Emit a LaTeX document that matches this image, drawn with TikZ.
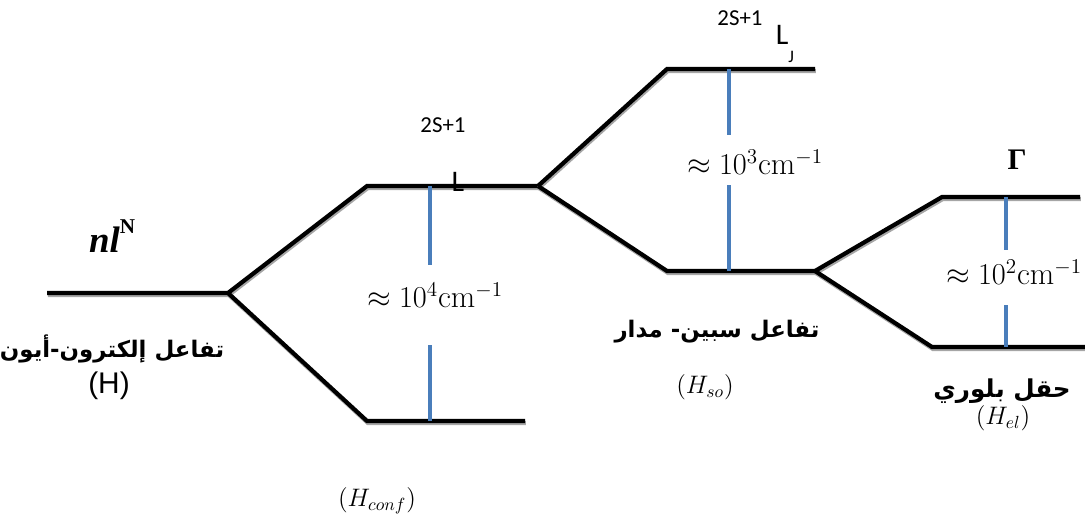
\documentclass[tikz,border=0pt]{standalone}
\usepackage{fontspec}
\usepackage{amsmath}
\usetikzlibrary{calc}
\TeXXeTstate=1
\newfontfamily\arabicfont[Script=Arabic]{DejaVu Sans}
\newfontfamily\calfont{Carlito}
\newfontfamily\arialfont{Liberation Sans}
\newfontfamily\timesfont{Liberation Serif}
\definecolor{gapblue}{HTML}{4A7EBB}

\begin{document}
\begin{tikzpicture}[x=0.02cm, y=-0.02cm,
  level/.style={line width=2.4pt, preaction={draw=black!35, line width=2.4pt, transform canvas={shift={(0.5pt,-1.1pt)}}}},
  gap/.style={draw=gapblue, line width=2pt},
  split/.style={inner sep=0pt, font=\fontsize{18}{20}\selectfont},
  term/.style={inner sep=0pt, font=\calfont\fontsize{17}{19}\selectfont},
  mult/.style={inner sep=0pt, font=\calfont\fontsize{13}{15}\selectfont},
  arlabel/.style={inner sep=0pt, font=\arabicfont\bfseries\fontsize{#1}{18}\selectfont},
  ham/.style={inner sep=0pt, font=\fontsize{14}{16}\selectfont}
]
\useasboundingbox (0,0) rectangle (1085,525);

% energy levels
\coordinate (a0) at (47,293);
\coordinate (a1) at (228,293);
\coordinate (b1) at (367,186);
\coordinate (b2) at (538,186);
\coordinate (c1) at (367,421);
\coordinate (c2) at (525,421);
\coordinate (d1) at (667,69);
\coordinate (d2) at (815,69);
\coordinate (e1) at (667,271);
\coordinate (e2) at (815,271);
\coordinate (f1) at (942,197);
\coordinate (f2) at (1080,197);
\coordinate (g1) at (932,347);
\coordinate (g2) at (1085,347);

\draw[level] (a0) -- (a1) -- (b1) -- (b2);
\draw[level] (a1) -- (c1) -- (c2);
\draw[level] (b2) -- (d1) -- (d2);
\draw[level] (b2) -- (e1) -- (e2);
\draw[level] (e2) -- (f1) -- (f2);
\draw[level] (e2) -- (g1) -- (g2);

% splittings
\node[split] (conf) at (435,295) {$\approx 10^4\mathrm{cm}^{-1}$};
\node[split] (so) at (755,162) {$\approx 10^3\mathrm{cm}^{-1}$};
\node[split] (el) at (1014,272) {$\approx 10^2\mathrm{cm}^{-1}$};
\coordinate (m1) at (430,0);
\coordinate (m2) at (729,0);
\coordinate (m3) at (1006,0);
\draw[gap] (m1 |- b1) -- ++(0,79);
\draw[gap] (m1 |- c1) -- ++(0,-76);
\draw[gap] (m2 |- d1) -- ++(0,66);
\draw[gap] (m2 |- e1) -- ++(0,-86);
\draw[gap] (m3 |- f1) -- ++(0,53);
\draw[gap] (m3 |- g1) -- ++(0,-42);

% terms
\node[inner sep=0pt, font=\timesfont\bfseries\fontsize{21}{23}\selectfont] (conf0) at (112,236) {\textit{nl}\raisebox{1.1ex}{\fontsize{12}{14}\selectfont N}};
\node[mult] (ms1) at (443,125) {2S+1};
\node[term, anchor=south] (lt) at (458,192) {L};
\node[mult] (ms2) at (740,18) {2S+1};
\node[term] (lj) at (785,44) {L\raisebox{-1.2ex}{\fontsize{10}{12}\selectfont J}};
\node[inner sep=0pt, font=\timesfont\bfseries\fontsize{17}{19}\selectfont] (gam) at (1017,160) {Γ};

% interactions
\node[arlabel=13] (h0a) at (112,349) {\beginR تفاعل إلكترون-أيون\endR};
\node[inner sep=0pt, font=\arialfont\fontsize{17}{20}\selectfont] (h0) at (109,386) {(H)};
\node[arlabel=13] (hsoa) at (717,332) {\beginR تفاعل سبين- مدار\endR};
\node[ham] (hso) at (705,387) {$(H_{so})$};
\node[arlabel=14] (hela) at (1002,391) {\beginR حقل بلوري\endR};
\node[ham] (hel) at (1003,418) {$(H_{el})$};
\node[ham] (hconf) at (377,501) {$(H_{conf})$};
\end{tikzpicture}
\end{document}
